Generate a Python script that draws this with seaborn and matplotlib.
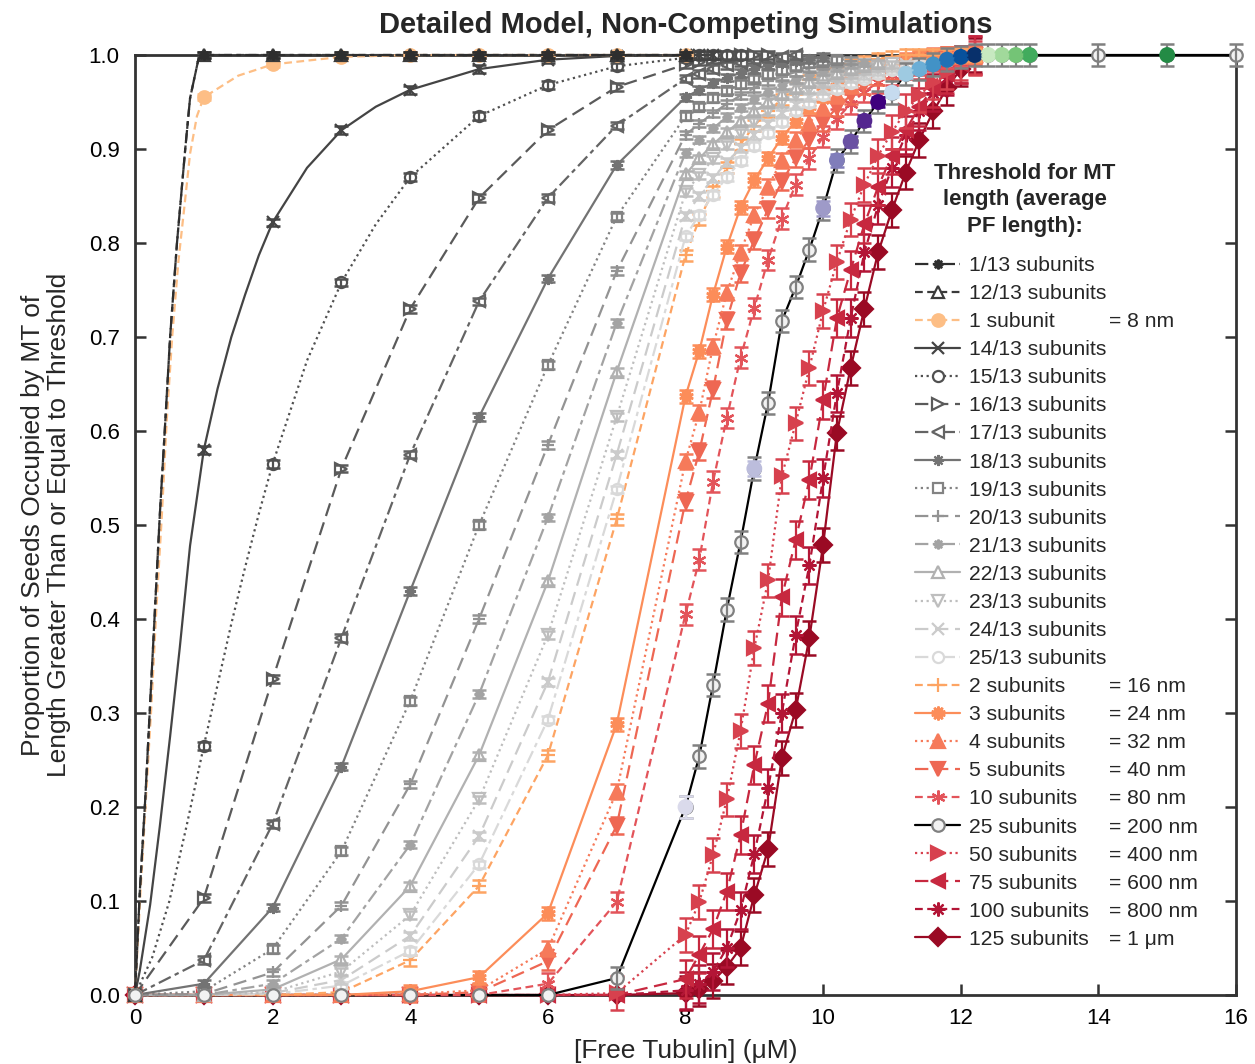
import matplotlib
matplotlib.use("Agg")
import matplotlib.pyplot as plt
from matplotlib.lines import Line2D
import seaborn as sns
import numpy as np

sns.set_style("ticks")
plt.rcParams['font.family'] = ['Liberation Sans', 'DejaVu Sans']

# ---------------- data ----------------
X_INT = [0, 1, 2, 3, 4, 5, 6, 7, 8]
X_FINE = [8.2, 8.4, 8.6, 8.8, 9.0,
          9.2, 9.4, 9.6, 9.8, 10.0,
          10.2, 10.4, 10.6, 10.8, 11.0,
          11.2, 11.4, 11.6, 11.8, 12.0,
          12.2]
X_25_TAIL = [12.4, 12.6, 12.8, 13.0, 14.0, 15.0, 16.0]

# grey series: values at X_INT followed by values at the first points of X_FINE
y_1_13 = [0, 1, 1, 1, 1, 1, 1, 1, 1]
y_12_13 = [0, 1, 1, 1, 1, 1, 1, 1, 1]
y_1sub = [0, 0.955, 0.99, 0.998, 1, 1, 1, 1, 1]
y_14_13 = [0, 0.58, 0.822, 0.92, 0.963, 0.985, 0.995, 0.999, 1.0] + [1, 1]
y_15_13 = [0, 0.265, 0.565, 0.758, 0.87, 0.935, 0.968, 0.988, 0.997] + [1, 1, 1, 1]
y_16_13 = [0, 0.103, 0.336, 0.56, 0.73, 0.848, 0.92, 0.966, 0.99] + [
    0.993, 0.996, 0.998, 1, 1, 1]
y_17_13 = [0, 0.037, 0.182, 0.38, 0.575, 0.738, 0.848, 0.925, 0.975] + [
    0.98, 0.985, 0.989, 0.992, 0.995, 0.997, 0.998, 1]
y_18_13 = [0, 0.012, 0.093, 0.243, 0.43, 0.615, 0.762, 0.883, 0.955] + [
    0.963, 0.97, 0.976, 0.981, 0.985, 0.989, 0.992, 0.994, 0.996, 0.998]
y_19_13 = [0, 0.004, 0.049, 0.153, 0.313, 0.5, 0.67, 0.828, 0.935] + [
    0.945, 0.954, 0.962, 0.969, 0.975, 0.98, 0.984, 0.988, 0.991, 0.993, 0.995]
y_20_13 = [0, 0.001, 0.024, 0.095, 0.224, 0.4, 0.585, 0.77, 0.915] + [
    0.927, 0.938, 0.948, 0.957, 0.965, 0.972, 0.977, 0.982, 0.986, 0.989, 0.992, 0.994]
y_21_13 = [0, 0, 0.012, 0.06, 0.16, 0.32, 0.508, 0.715, 0.896] + [
    0.91, 0.922, 0.934, 0.944, 0.953, 0.961, 0.968, 0.974, 0.979, 0.983, 0.987, 0.99, 0.992]
y_22_13 = [0, 0, 0.006, 0.038, 0.116, 0.255, 0.44, 0.663, 0.873] + [
    0.89, 0.905, 0.918, 0.93, 0.94, 0.95, 0.958, 0.965, 0.971, 0.977, 0.981, 0.985, 0.988, 0.991]
y_23_13 = [0, 0, 0.003, 0.025, 0.085, 0.208, 0.383, 0.615, 0.854] + [
    0.872, 0.889, 0.904, 0.917, 0.929, 0.94, 0.949, 0.957, 0.964, 0.97, 0.976, 0.98, 0.984, 0.987, 0.99]
y_24_13 = [0, 0, 0.002, 0.016, 0.063, 0.169, 0.333, 0.575, 0.829] + [
    0.85, 0.869, 0.886, 0.901, 0.915, 0.927, 0.938, 0.947, 0.955, 0.963, 0.969, 0.975, 0.979, 0.983,
    0.987, 0.99]
y_25_13 = [0, 0, 0.001, 0.01, 0.047, 0.139, 0.293, 0.538, 0.807] + [
    0.83, 0.851, 0.87, 0.887, 0.903, 0.917, 0.929, 0.94, 0.949, 0.957, 0.964, 0.97, 0.975, 0.98,
    0.984, 0.987, 0.99]

# red series: values at X_INT + X_FINE
y_2sub = [0, 0, 0, 0.003, 0.037, 0.116, 0.255, 0.506, 0.787] + [
    0.825, 0.855, 0.88, 0.905, 0.925, 0.94, 0.953, 0.964, 0.973, 0.98,
    0.986, 0.99, 0.993, 0.996, 0.998, 1, 1, 1, 1, 1, 1]
y_3sub = [0, 0, 0, 0, 0.004, 0.019, 0.087, 0.288, 0.637] + [
    0.685, 0.745, 0.796, 0.838, 0.867, 0.89, 0.912, 0.93, 0.945, 0.957,
    0.967, 0.975, 0.982, 0.987, 0.991, 0.994, 0.997, 0.999, 1, 1, 1]
y_4sub = [0, 0, 0, 0, 0.001, 0.005, 0.049, 0.216, 0.568] + [
    0.62, 0.69, 0.747, 0.79, 0.83, 0.86, 0.888, 0.91, 0.928, 0.944,
    0.957, 0.968, 0.977, 0.984, 0.99, 0.994, 0.997, 0.999, 1, 1, 1]
y_5sub = [0, 0, 0, 0, 0, 0.003, 0.036, 0.18, 0.525] + [
    0.578, 0.644, 0.718, 0.768, 0.803, 0.836, 0.865, 0.89, 0.91, 0.928,
    0.944, 0.957, 0.968, 0.977, 0.984, 0.99, 0.994, 0.997, 0.999, 1, 1]
y_10sub = [0, 0, 0, 0, 0, 0, 0.012, 0.099, 0.405] + [
    0.463, 0.546, 0.614, 0.678, 0.731, 0.782, 0.826, 0.862, 0.89, 0.913,
    0.932, 0.948, 0.961, 0.971, 0.979, 0.985, 0.99, 0.994, 0.997, 0.999, 1]
y_25sub = [0, 0, 0, 0, 0, 0, 0, 0.018, 0.2] + [
    0.254, 0.33, 0.41, 0.482, 0.56, 0.63, 0.717, 0.753, 0.793, 0.837,
    0.888, 0.908, 0.93, 0.95, 0.96, 0.98, 0.985, 0.99, 0.995, 0.998, 1.0] + [1, 1, 1, 1, 1, 1, 1]
y_50sub = [0, 0, 0, 0, 0, 0, 0, 0.002, 0.064] + [
    0.099, 0.149, 0.208, 0.281, 0.369, 0.441, 0.552, 0.608, 0.667, 0.728,
    0.78, 0.825, 0.862, 0.893, 0.918, 0.94, 0.957, 0.971, 0.982, 0.991, 0.997]
y_75sub = [0, 0, 0, 0, 0, 0, 0, 0, 0.017] + [
    0.043, 0.07, 0.11, 0.17, 0.245, 0.31, 0.423, 0.484, 0.548, 0.633,
    0.72, 0.771, 0.82, 0.86, 0.893, 0.92, 0.945, 0.965, 0.98, 0.99, 1.0]
y_100sub = [0, 0, 0, 0, 0, 0, 0, 0, 0.005] + [
    0.012, 0.025, 0.05, 0.09, 0.15, 0.22, 0.3, 0.383, 0.457, 0.55,
    0.64, 0.72, 0.79, 0.84, 0.88, 0.915, 0.94, 0.96, 0.977, 0.99, 1.0]
y_125sub = [0, 0, 0, 0, 0, 0, 0, 0, 0.002] + [
    0.006, 0.015, 0.03, 0.05, 0.106, 0.155, 0.252, 0.303, 0.38, 0.479,
    0.598, 0.667, 0.73, 0.79, 0.835, 0.875, 0.91, 0.94, 0.965, 0.985, 1.0]

# fitted-curve points (line only)
curve_1_13_x = [0, 0.07, 0.15, 0.22, 0.29, 0.36, 0.44, 0.51, 0.61, 0.73, 0.8, 0.92, 1.0]
curve_1_13_y = [0, 0.11, 0.21, 0.31, 0.41, 0.51, 0.61, 0.70, 0.80, 0.90, 0.954, 0.995, 1.0]
curve_1sub_x = [0, 0.08, 0.16, 0.24, 0.31, 0.39, 0.46, 0.54, 0.63, 0.73, 0.8, 0.9, 1.0, 1.5, 2.0]
curve_1sub_y = [0, 0.11, 0.21, 0.31, 0.41, 0.51, 0.61, 0.70, 0.78, 0.847, 0.895, 0.935, 0.955, 0.978, 0.99]
curve_14_13_x = [0, 0.07, 0.22, 0.36, 0.51, 0.65, 0.8, 1.0, 1.2, 1.4, 1.6, 1.8, 2.0, 2.5, 3.0, 3.5, 4.0]
curve_14_13_y = [0, 0.026, 0.096, 0.179, 0.275, 0.369, 0.478, 0.58, 0.645, 0.70, 0.745, 0.787, 0.822,
                 0.88, 0.92, 0.945, 0.963]
curve_15_13_x = [0, 0.25, 0.5, 0.75, 1.0, 1.2, 1.4, 1.6, 1.8, 2.0, 2.5, 3.0, 3.5, 4.0]
curve_15_13_y = [0, 0.04, 0.1, 0.18, 0.265, 0.33, 0.395, 0.455, 0.512, 0.565, 0.675, 0.758, 0.82, 0.87]

labels = ["1/13 subunits", "12/13 subunits", "1 subunit", "14/13 subunits", "15/13 subunits",
          "16/13 subunits", "17/13 subunits", "18/13 subunits", "19/13 subunits", "20/13 subunits",
          "21/13 subunits", "22/13 subunits", "23/13 subunits", "24/13 subunits", "25/13 subunits",
          "2 subunits", "3 subunits", "4 subunits", "5 subunits", "10 subunits", "25 subunits",
          "50 subunits", "75 subunits", "100 subunits", "125 subunits"]
lengths = {"1 subunit": "= 8 nm", "2 subunits": "= 16 nm", "3 subunits": "= 24 nm",
           "4 subunits": "= 32 nm", "5 subunits": "= 40 nm", "10 subunits": "= 80 nm",
           "25 subunits": "= 200 nm", "50 subunits": "= 400 nm", "75 subunits": "= 600 nm",
           "100 subunits": "= 800 nm", "125 subunits": "= 1 μm"}

ys = [y_1_13, y_12_13, y_1sub, y_14_13, y_15_13, y_16_13, y_17_13, y_18_13, y_19_13, y_20_13,
      y_21_13, y_22_13, y_23_13, y_24_13, y_25_13, y_2sub, y_3sub, y_4sub, y_5sub, y_10sub,
      y_25sub, y_50sub, y_75sub, y_100sub, y_125sub]
curves = {0: (curve_1_13_x, curve_1_13_y), 1: (curve_1_13_x, curve_1_13_y),
          2: (curve_1sub_x, curve_1sub_y), 3: (curve_14_13_x, curve_14_13_y),
          4: (curve_15_13_x, curve_15_13_y)}
errs = [0.003, 0.003, 0.003, 0.004, 0.004, 0.004, 0.004, 0.004, 0.004, 0.004, 0.004, 0.004, 0.004,
        0.004, 0.004, 0.006, 0.007, 0.008, 0.009, 0.011, 0.012, 0.018, 0.02, 0.02, 0.018]

# extra coloured points (not in legend)
cx = [8.0, 9.0, 10.0, 10.2, 10.4, 10.6, 10.8, 11.0, 11.2, 11.4, 11.6, 11.8, 12.0, 12.2,
      12.4, 12.6, 12.8, 13.0, 15.0]
cy = [0.2, 0.56, 0.837, 0.888, 0.908, 0.93, 0.95, 0.96, 0.98, 0.985, 0.99, 0.995, 0.998, 1.0,
      1.0, 1.0, 1.0, 1.0, 1.0]
cerr = [0.012, 0.008, 0.008, 0.007, 0.006, 0.006, 0.005, 0.005, 0.004, 0.003, 0.003, 0.002, 0.002,
        0.001, 0.001, 0.001, 0.001, 0.001, 0.001]

# ---------------- styles ----------------
colors = ['#2e2e2e', '#3a3a3a', '#fdbe85', '#444444', '#505050', '#5a5a5a', '#646464', '#737373',
          '#838383', '#939393', '#a3a3a3', '#b1b1b1', '#bebebe', '#cbcbcb', '#d9d9d9',
          '#fda463', '#fc8d59', '#f67a5a', '#ee6753', '#e3545a', '#000000',
          '#d7414e', '#c7283f', '#b31536', '#9a0a24']
DASH = (0, (6, 3))
SDASH = (0, (3.5, 2))
DOT = (0, (1, 1.6))
DDOT = (0, (6, 2, 2, 2))
styles = [DDOT, SDASH, SDASH, '-', DOT, DASH, DDOT, '-', DOT, DASH, DDOT, '-', DOT, DASH, DDOT,
          SDASH, '-', DOT, DASH, SDASH, '-', DOT, DASH, SDASH, '-']
markers = [(8, 1, 0), '^', 'o', 'x', 'o', '>', '<', (8, 2, 0), 's', '+', (8, 1, 0), '^', 'v', 'x', 'o',
           '+', (10, 1, 0), '^', 'v', (6, 2, 0), 'o', '>', '<', (8, 2, 0), 'D']
msizes = [7, 8, 9, 8, 8, 8, 8, 8, 7, 9, 7, 8, 8, 8, 8,
          10, 10, 10, 10, 10, 9, 10, 10, 10, 9]
openm = [False, True, False, False, True, True, True, False, True, False, False, True, True, False, True,
         False, False, False, False, False, True, False, False, False, False]
ccolors = ['#dadaeb', '#bcbddc', '#9e9ac8', '#807dba', '#6a51a3', '#54278f', '#3f007d',
           '#c6dbef', '#9ecae1', '#6baed6', '#4292c6', '#2171b5', '#08519c', '#08306b',
           '#c7e9c0', '#a1d99b', '#74c476', '#41ab5d', '#238b45']

W, H = 1255, 1064
fig = plt.figure(figsize=(W / 100, H / 100), dpi=100)
ax = fig.add_axes([135 / W, 69 / H, (1236 - 135) / W, (995 - 55) / H])

FULL_X = X_INT + X_FINE
handles = []
nser = len(labels)
for i in range(nser):
    lab, yv = labels[i], ys[i]
    is25 = lab == "25 subunits"
    if is25:
        xv = X_INT + X_FINE + X_25_TAIL
    else:
        xv = FULL_X[:len(yv)]
    col = colors[i]
    mec = '#808080' if is25 else col
    mfc = ('#f2f2f2' if is25 else 'white') if openm[i] else col
    z = 3 + (nser - i) * 0.1
    zm = 7 if is25 else z + 0.01
    # line
    if i in curves:
        cxs, cys = curves[i]
        lx = list(cxs) + [x for x in xv if x > cxs[-1]]
        ly = list(cys) + [y for x, y in zip(xv, yv) if x > cxs[-1]]
    else:
        lx, ly = xv, yv
    sns.lineplot(x=lx, y=ly, ax=ax, color=col, linestyle=styles[i], linewidth=1.6,
                 sort=False, estimator=None, clip_on=False, zorder=z)
    # markers
    sns.lineplot(x=xv, y=yv, ax=ax, color=col, linestyle='none', marker=markers[i],
                 markersize=msizes[i], markerfacecolor=mfc, markeredgecolor=mec,
                 markeredgewidth=1.6, sort=False, estimator=None, clip_on=False, zorder=zm)
    ex = [x for x, y in zip(xv, yv) if y > 0]
    ey = [y for y in yv if y > 0]
    ax.errorbar(ex, ey, yerr=errs[i], fmt='none', ecolor=mec, elinewidth=1.6, capsize=5,
                capthick=1.8, clip_on=False, zorder=zm)
    handles.append(Line2D([], [], color=col, linestyle=styles[i], linewidth=1.6, marker=markers[i],
                          markersize=msizes[i], markerfacecolor=mfc, markeredgecolor=mec,
                          markeredgewidth=1.6))

sns.scatterplot(x=cx, y=cy, hue=[str(k) for k in range(len(cx))],
                palette={str(k): c for k, c in enumerate(ccolors)}, ax=ax, s=130, marker='o',
                edgecolor='none', legend=False, zorder=8, clip_on=False)
for xx, yy, ee, cc in zip(cx, cy, cerr, ccolors):
    ax.errorbar([xx], [yy], yerr=[ee], fmt='none', ecolor=cc, elinewidth=1.6, capsize=5,
                capthick=1.8, clip_on=False, zorder=8)

ax.set_xlim(0, 16)
ax.set_ylim(0, 1)
ax.set_xticks(range(0, 17, 2))
ax.set_yticks(np.round(np.arange(0, 1.01, 0.1), 1))
ax.set_yticklabels([f"{v:.1f}" for v in np.arange(0, 1.01, 0.1)])
ax.tick_params(axis='both', direction='in', length=8, width=1.8, colors='#333333',
               labelcolor='black', labelsize=16)
ax.tick_params(axis='y', right=True, pad=11)
ax.tick_params(axis='x', top=False, pad=9.5)
for s in ax.spines.values():
    s.set_color('#333333')
    s.set_linewidth(2)

ax.set_title("Detailed Model, Non-Competing Simulations", fontsize=21, fontweight='bold', pad=16)
ax.set_xlabel("[Free Tubulin] (μM)", fontsize=19, labelpad=7)
ax.set_ylabel("Proportion of Seeds Occupied by MT of\nLength Greater Than or Equal to Threshold",
              fontsize=19, labelpad=13, linespacing=1.1)

leg = ax.legend(handles, labels, loc='upper left', bbox_to_anchor=(915 / W, 1 - 256 / H),
                bbox_transform=fig.transFigure, frameon=False, fontsize=15.2, handlelength=2.15,
                handletextpad=0.42, labelspacing=0.43, borderpad=0, borderaxespad=0, numpoints=1)

fig.text(1025 / W, 1 - 163 / H, "Threshold for MT\nlength (average\nPF length):", ha='center',
         va='top', fontsize=16, fontweight='bold', linespacing=1.33)

fig.canvas.draw()
for t in leg.get_texts():
    s = t.get_text()
    if s in lengths:
        bb = t.get_window_extent()
        fig.text(1109 / W, bb.y0 / H, lengths[s], ha='left', va='bottom', fontsize=15.2)

fig.savefig("out.png", dpi=100)
